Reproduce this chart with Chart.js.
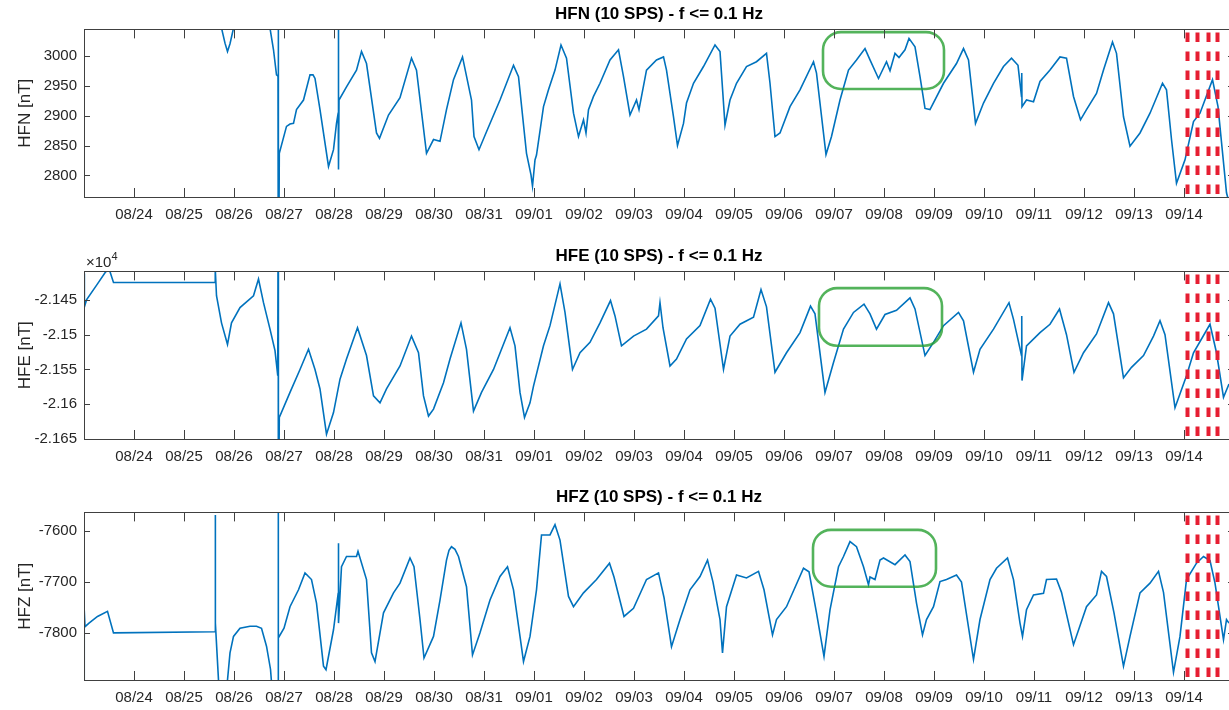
<!DOCTYPE html>
<html>
<head>
<meta charset="utf-8">
<script src="https://cdn.jsdelivr.net/npm/chart.js@4.4.0/dist/chart.umd.min.js"></script>
<style>
  html, body { margin: 0; padding: 0; background: #fff; overflow: hidden; }
  #wrap { position: relative; width: 1229px; height: 710px; overflow: hidden; }
  canvas { position: absolute; left: 0; }
</style>
</head>
<body>
<div id="wrap">
  <canvas id="hfn" width="1236" height="227" style="top:0px"></canvas>
  <canvas id="hfe" width="1236" height="227" style="top:242px"></canvas>
  <canvas id="hfz" width="1236" height="227" style="top:483px"></canvas>
</div>
<script>
// time axis: days since 08/23 00:00
const dayTicks = [1, 2, 3, 4, 5, 6, 7, 8, 9, 10, 11, 12, 13, 14, 15, 16, 17, 18, 19, 20, 21, 22];
const dayLabels = ['08/24', '08/25', '08/26', '08/27', '08/28', '08/29', '08/30', '08/31',
  '09/01', '09/02', '09/03', '09/04', '09/05', '09/06', '09/07', '09/08', '09/09', '09/10',
  '09/11', '09/12', '09/13', '09/14'];

const hfnTicks = [2800, 2850, 2900, 2950, 3000];
const hfeTicks = [-21650, -21600, -21550, -21500, -21450];
const hfzTicks = [-7800, -7700, -7600];

// HFN [nT]
const hfnTime = [0, 0.59, 2.62, 2.7, 2.74, 2.82, 2.87, 2.92, 2.99, 3.05, 3.6, 3.72, 3.79, 3.85, 3.88, 3.885, 3.89, 3.906,
  4.05, 4.12, 4.19, 4.25, 4.39, 4.52, 4.58, 4.62, 4.72, 4.89, 4.99, 5.05, 5.085, 5.088, 5.092, 5.1,
  5.25, 5.45, 5.55, 5.65, 5.85, 5.91, 6.09, 6.32, 6.55, 6.65, 6.85, 6.99, 7.12, 7.25, 7.39, 7.57,
  7.75, 7.8, 7.9, 8.05, 8.32, 8.59, 8.69, 8.85, 8.94, 8.97, 9.02, 9.05, 9.19, 9.29, 9.42, 9.54,
  9.65, 9.79, 9.89, 9.99, 10.04, 10.09, 10.19, 10.32, 10.52, 10.69, 10.79, 10.92, 11.05, 11.1,
  11.25, 11.45, 11.59, 11.65, 11.79, 11.87, 11.99, 12.05, 12.19, 12.39, 12.62, 12.72, 12.82, 12.92,
  13.05, 13.25, 13.45, 13.65, 13.72, 13.82, 13.92, 14.12, 14.32, 14.59, 14.65, 14.84, 14.95, 15.12,
  15.29, 15.45, 15.62, 15.72, 15.89, 16.05, 16.12, 16.22, 16.3, 16.42, 16.5, 16.62, 16.72, 16.82,
  16.92, 17.19, 17.45, 17.59, 17.69, 17.83, 17.99, 18.19, 18.39, 18.55, 18.68, 18.75, 18.755, 18.76,
  18.85, 18.99, 19.12, 19.32, 19.52, 19.65, 19.79, 19.93, 20.05, 20.25, 20.39, 20.57, 20.65, 20.79,
  20.92, 21.12, 21.32, 21.57, 21.65, 21.75, 21.85, 22.02, 22.19, 22.32, 22.57, 22.68, 22.85, 22.95];
const hfnVal = [3150, 3150, 3150, 3100, 3050, 3021, 3007, 3020, 3046, 3080, 3080, 3046, 3010, 2968, 2966, 3300, 2500, 2837,
  2882, 2886, 2887, 2910, 2926, 2968, 2968, 2962, 2910, 2815, 2843, 2887, 2905, 3300, 2810, 2926,
  2948, 2976, 3007, 2987, 2871, 2862, 2901, 2930, 2996, 2976, 2837, 2860, 2857, 2910, 2960, 2998,
  2926, 2865, 2843, 2873, 2926, 2984, 2965, 2837, 2801, 2782, 2826, 2834, 2915, 2943, 2976, 3018,
  2996, 2904, 2865, 2893, 2871, 2910, 2932, 2954, 2993, 3010, 2965, 2901, 2926, 2910,
  2976, 2993, 2998, 2976, 2898, 2850, 2887, 2921, 2954, 2982, 3018, 3007, 2884, 2926,
  2954, 2982, 2990, 3004, 2954, 2865, 2871, 2915, 2943, 2990, 2971, 2835, 2865, 2926,
  2976, 2993, 3012, 2993, 2962, 2990, 2975, 3004, 2997, 3010, 3029, 3015, 2965, 2912,
  2910, 2954, 2987, 3012, 2993, 2887, 2921, 2954, 2982, 2996, 2984, 2932, 2971, 2915,
  2926, 2923, 2957, 2976, 2998, 2996, 2932, 2893, 2910, 2937, 2976, 3023, 3004, 2898,
  2849, 2871, 2904, 2954, 2943, 2860, 2787, 2826, 2890, 2904, 2960, 2915, 2771, 2740];

// HFE [nT]
const hfeTime = [0, 0.008, 0.05, 0.27, 0.43, 0.5, 0.59, 2.62, 2.625, 2.65, 2.75, 2.87, 2.95, 3.12, 3.39, 3.49, 3.59,
  3.72, 3.82, 3.875, 3.883, 3.888, 3.906, 4.12, 4.32, 4.49, 4.62, 4.72, 4.85, 4.99, 5.12, 5.25, 5.47,
  5.65, 5.79, 5.92, 6.05, 6.32, 6.55, 6.69, 6.79, 6.89, 6.99, 7.19, 7.32, 7.54, 7.65, 7.79, 7.95,
  8.19, 8.52, 8.62, 8.72, 8.81, 8.92, 8.99, 9.19, 9.32, 9.52, 9.62, 9.77, 9.92, 10.12, 10.32, 10.53,
  10.62, 10.75, 10.99, 11.25, 11.49, 11.52, 11.58, 11.72, 11.85, 12.05, 12.32, 12.53, 12.62, 12.79,
  12.92, 13.12, 13.39, 13.54, 13.65, 13.82, 14.05, 14.32, 14.53, 14.62, 14.82, 14.99, 15.19, 15.39,
  15.6, 15.72, 15.85, 16.02, 16.25, 16.52, 16.62, 16.82, 16.99, 17.19, 17.49, 17.59, 17.79, 17.92,
  18.19, 18.5, 18.59, 18.75, 18.755, 18.76, 18.85, 19.12, 19.32, 19.51, 19.65, 19.8, 19.99, 20.25,
  20.49, 20.59, 20.79, 20.95, 21.19, 21.39, 21.52, 21.62, 21.82, 22.05, 22.19, 22.52, 22.65, 22.79, 22.9];
const hfeVal = [-21412, -21460, -21450, -21427, -21410, -21405, -21425, -21425, -21405, -21444, -21483, -21514, -21483, -21461, -21444, -21420, -21454,
  -21492, -21523, -21559, -21300, -21800, -21619, -21583, -21550, -21521, -21550, -21578, -21643, -21612, -21564, -21535, -21490,
  -21530, -21588, -21598, -21578, -21545, -21502, -21526, -21588, -21617, -21607, -21569, -21535, -21483, -21521, -21610, -21583,
  -21550, -21490, -21516, -21583, -21619, -21598, -21574, -21516, -21487, -21427, -21468, -21550, -21526, -21511, -21483, -21451,
  -21473, -21516, -21502, -21492, -21473, -21454, -21490, -21545, -21535, -21506, -21487, -21449, -21462, -21550,
  -21502, -21485, -21475, -21435, -21460, -21554, -21526, -21497, -21459, -21470, -21583, -21540, -21492, -21468,
  -21456, -21470, -21492, -21471, -21465, -21447, -21463, -21530, -21511, -21487, -21468, -21480, -21554, -21521,
  -21492, -21454, -21478, -21530, -21473, -21566, -21516, -21497, -21485, -21463, -21500, -21554, -21526, -21499,
  -21454, -21470, -21562, -21547, -21530, -21502, -21480, -21500, -21605, -21559, -21526, -21485, -21526, -21590, -21571];

// HFZ [nT]
const hfzTime = [0, 0.005, 0.02, 0.1, 0.27, 0.47, 0.59, 2.62, 2.625, 2.63, 2.69, 2.75, 2.85, 2.87, 2.92, 2.99, 3.12,
  3.32, 3.45, 3.55, 3.65, 3.73, 3.77, 3.88, 3.883, 3.89, 4.0, 4.12, 4.29, 4.42, 4.55, 4.65, 4.79, 4.84,
  4.99, 5.085, 5.088, 5.092, 5.15, 5.25, 5.45, 5.48, 5.65, 5.75, 5.82, 5.99, 6.19, 6.32, 6.52, 6.6,
  6.72, 6.8, 6.99, 7.12, 7.25, 7.3, 7.35, 7.42, 7.49, 7.65, 7.77, 7.92, 8.12, 8.32, 8.47, 8.59, 8.72, 8.79,
  8.92, 9.05, 9.15, 9.32, 9.42, 9.52, 9.69, 9.79, 9.99, 10.25, 10.51, 10.6, 10.8, 10.99, 11.25, 11.49,
  11.6, 11.75, 11.92, 12.12, 12.32, 12.47, 12.58, 12.72, 12.77, 12.85, 13.05, 13.25, 13.49, 13.6,
  13.77, 13.85, 14.05, 14.39, 14.5, 14.65, 14.8, 14.92, 15.09, 15.19, 15.32, 15.45, 15.59, 15.69,
  15.72, 15.82, 15.92, 15.99, 16.22, 16.42, 16.52, 16.65, 16.77, 16.85, 16.99, 17.12, 17.25, 17.45,
  17.55, 17.79, 17.92, 18.12, 18.25, 18.47, 18.59, 18.72, 18.77, 18.85, 18.99, 19.19, 19.25, 19.45,
  19.55, 19.79, 20.05, 20.25, 20.35, 20.45, 20.6, 20.79, 20.92, 21.12, 21.32, 21.49, 21.59, 21.79,
  21.92, 22.05, 22.25, 22.39, 22.52, 22.62, 22.79, 22.85, 22.9];
const hfzVal = [-7900, -7755, -7787, -7780, -7767, -7757, -7799, -7797, -7569, -7780, -7891, -7950, -7950, -7891, -7838, -7806, -7790,
  -7786, -7786, -7790, -7825, -7870, -7920, -7950, -7500, -7809, -7790, -7748, -7715, -7682, -7695, -7741, -7864, -7871,
  -7793, -7721, -7624, -7780, -7670, -7650, -7650, -7640, -7695, -7838, -7855, -7760, -7721, -7702, -7653, -7670,
  -7773, -7848, -7806, -7735, -7657, -7638, -7631, -7636, -7650, -7709, -7842, -7799, -7735, -7689, -7670, -7715, -7806, -7855,
  -7806, -7715, -7608, -7608, -7588, -7618, -7728, -7748, -7721, -7695, -7663, -7690, -7767, -7751, -7695, -7682,
  -7730, -7826, -7773, -7715, -7689, -7657, -7700, -7773, -7838, -7748, -7686, -7692, -7679, -7715,
  -7803, -7773, -7748, -7673, -7680, -7760, -7845, -7754, -7670, -7650, -7621, -7631, -7670, -7705,
  -7690, -7695, -7657, -7653, -7666, -7647, -7660, -7741, -7803, -7773, -7748, -7699, -7695, -7686,
  -7700, -7851, -7773, -7695, -7673, -7653, -7695, -7780, -7806, -7754, -7725, -7722, -7695, -7694,
  -7720, -7822, -7748, -7725, -7679, -7689, -7760, -7864, -7806, -7721, -7702, -7679, -7720, -7876,
  -7806, -7695, -7663, -7650, -7658, -7702, -7812, -7773, -7780];

// event markers (red dashed) and highlighted interval (green box), in data units
const markTimes = [22.07, 22.27, 22.49, 22.67];
const hfnBox = [14.78, 17.2, 2944.5, 3039.5];
const hfeBox = [14.7, 17.16, -21516, -21433];
const hfzBox = [14.58, 17.04, -7709, -7598];

const FONT = "'Liberation Sans', Arial, Helvetica, sans-serif";

function roundBox(ctx, l, t, w, h, r) {
    ctx.beginPath();
    ctx.moveTo(l + r, t);
    ctx.lineTo(l + w - r, t);
    ctx.arcTo(l + w, t, l + w, t + r, r);
    ctx.lineTo(l + w, t + h - r);
    ctx.arcTo(l + w, t + h, l + w - r, t + h, r);
    ctx.lineTo(l + r, t + h);
    ctx.arcTo(l, t + h, l, t + h - r, r);
    ctx.lineTo(l, t + r);
    ctx.arcTo(l, t, l + r, t, r);
    ctx.closePath();
}

const overlay = {
    id: 'overlay',
    afterDatasetsDraw(chart, args, opts) {
        const { ctx, chartArea: a, scales: { x, y } } = chart;

        // green highlight box
        if (opts.box) {
            const [t0, t1, v0, v1] = opts.box;
            const l = x.getPixelForValue(t0), r = x.getPixelForValue(t1);
            const tp = y.getPixelForValue(v1), bt = y.getPixelForValue(v0);
            ctx.save();
            ctx.strokeStyle = 'rgba(40,160,50,0.8)';
            ctx.lineWidth = 2.6;
            roundBox(ctx, l, tp, r - l, bt - tp, 18);
            ctx.stroke();
            ctx.restore();
        }

        // red dashed markers
        ctx.save();
        ctx.beginPath();
        ctx.rect(a.left, a.top, a.width, a.height);
        ctx.clip();
        ctx.strokeStyle = '#e61e32';
        ctx.lineWidth = 4;
        ctx.setLineDash([9.5, 9.5]);
        ctx.lineDashOffset = -3;
        markTimes.forEach(t => {
            const px = x.getPixelForValue(t);
            ctx.beginPath();
            ctx.moveTo(px, a.top);
            ctx.lineTo(px, a.bottom);
            ctx.stroke();
        });
        ctx.restore();

        // axes box with inward ticks
        ctx.save();
        ctx.strokeStyle = '#404040';
        ctx.lineWidth = 1;
        ctx.strokeRect(Math.round(a.left) + 0.5, Math.round(a.top) + 0.5,
            Math.round(a.width), Math.round(a.height));
        ctx.beginPath();
        x.ticks.forEach(tk => {
            const px = Math.round(x.getPixelForValue(tk.value)) + 0.5;
            ctx.moveTo(px, a.bottom); ctx.lineTo(px, a.bottom - 9);
            ctx.moveTo(px, a.top); ctx.lineTo(px, a.top + 9);
        });
        y.ticks.forEach(tk => {
            const py = Math.round(y.getPixelForValue(tk.value)) + 0.5;
            ctx.moveTo(a.left, py); ctx.lineTo(a.left + 6, py);
            ctx.moveTo(a.right, py); ctx.lineTo(a.right - 6, py);
        });
        ctx.stroke();

        if (opts.exponent) {
            ctx.fillStyle = '#262626';
            ctx.textBaseline = 'alphabetic';
            ctx.font = '15px ' + FONT;
            ctx.fillText('\u00d710', a.left + 2, a.top - 4.5);
            const w = ctx.measureText('\u00d710').width;
            ctx.font = '11px ' + FONT;
            ctx.fillText('4', a.left + 2 + w, a.top - 11);
        }
        ctx.restore();
    }
};

function makePanel(id, title, yTitle, times, values, yMin, yMax, yTicks, box, fmt, exponent) {
    const points = times.map((t, i) => ({ x: t, y: values[i] }));
    return new Chart(document.getElementById(id), {
        type: 'line',
        data: {
            datasets: [{
                data: points,
                borderColor: '#0072BD',
                borderWidth: 1.6,
                pointRadius: 0,
                tension: 0,
                clip: 0
            }]
        },
        options: {
            responsive: false,
            animation: false,
            events: [],
            layout: { padding: { left: 0, right: 2, top: 0, bottom: 0 } },
            plugins: {
                legend: { display: false },
                tooltip: { enabled: false },
                title: {
                    display: true,
                    text: title,
                    fullSize: false,
                    color: '#000',
                    font: { family: FONT, size: 17, weight: 'bold' },
                    padding: { top: 4, bottom: 5 }
                },
                overlay: { box: box, exponent: exponent }
            },
            scales: {
                x: {
                    type: 'linear',
                    min: 0,
                    max: 23,
                    grid: { display: false, drawTicks: false },
                    border: { display: false },
                    afterBuildTicks: s => { s.ticks = dayTicks.map(v => ({ value: v })); },
                    afterFit: s => { s.height = 30; },
                    ticks: {
                        autoSkip: false,
                        maxRotation: 0,
                        padding: 9,
                        color: '#262626',
                        font: { family: FONT, size: 15 },
                        callback: (v, i) => dayLabels[i]
                    }
                },
                y: {
                    min: yMin,
                    max: yMax,
                    grid: { display: false, drawTicks: false },
                    border: { display: false },
                    afterBuildTicks: s => { s.ticks = yTicks.map(v => ({ value: v })); },
                    afterFit: s => { s.width = 84; },
                    title: {
                        display: true,
                        text: yTitle,
                        color: '#262626',
                        font: { family: FONT, size: 17 },
                        padding: { top: 15, bottom: 0 }
                    },
                    ticks: {
                        padding: 7,
                        color: '#262626',
                        font: { family: FONT, size: 15 },
                        callback: fmt
                    }
                }
            }
        },
        plugins: [overlay]
    });
}

makePanel('hfn', 'HFN (10 SPS) - f <= 0.1 Hz', 'HFN [nT]', hfnTime, hfnVal,
    2764, 3044, hfnTicks, hfnBox, v => String(v), false);
makePanel('hfe', 'HFE (10 SPS) - f <= 0.1 Hz', 'HFE [nT]', hfeTime, hfeVal,
    -21650, -21409, hfeTicks, hfeBox, v => String(parseFloat((v / 1e4).toFixed(4))), true);
makePanel('hfz', 'HFZ (10 SPS) - f <= 0.1 Hz', 'HFZ [nT]', hfzTime, hfzVal,
    -7891, -7564, hfzTicks, hfzBox, v => String(v), false);
</script>
</body>
</html>
